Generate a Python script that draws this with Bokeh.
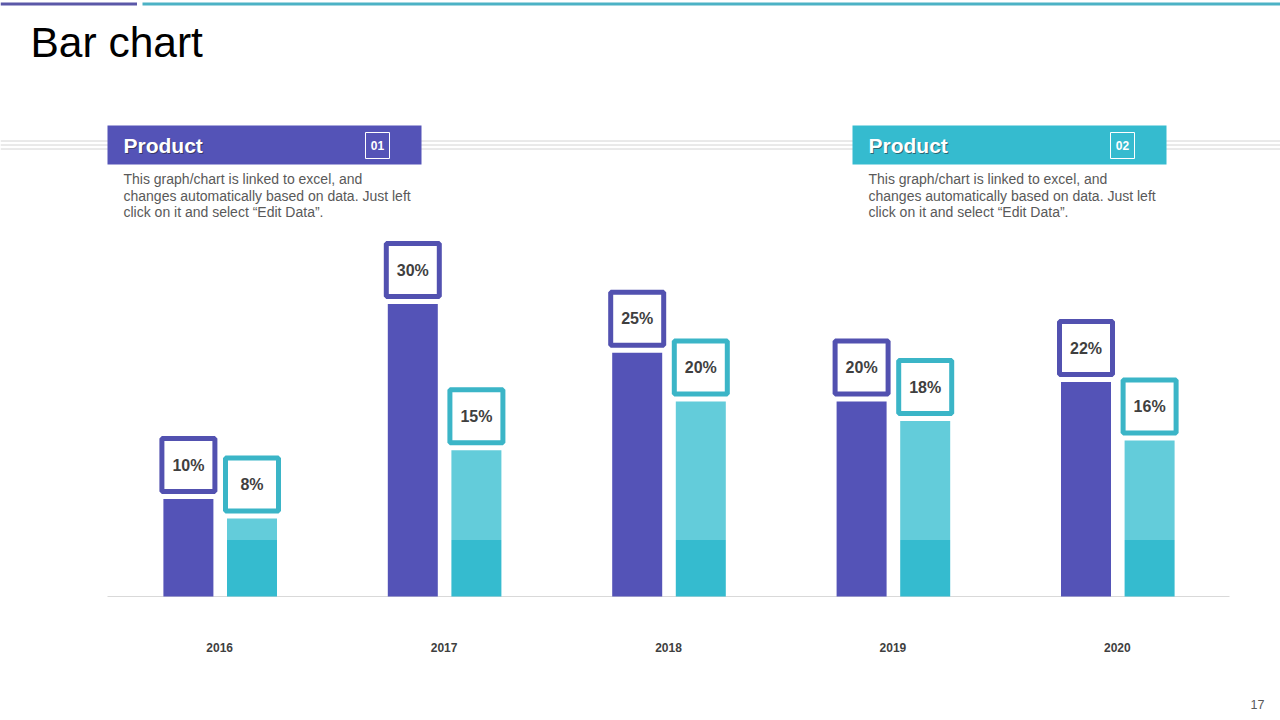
from bokeh.plotting import figure
from bokeh.models import Range1d, ColumnDataSource
from bokeh.core.properties import value
from bokeh.embed import file_html
from bokeh.resources import INLINE

# ---- chart data -------------------------------------------------------
years = ["2016", "2017", "2018", "2019", "2020"]
product_01 = [10, 30, 25, 20, 22]          # percent
product_02 = [8, 15, 20, 18, 16]           # percent
product_02_base = [5.8, 5.8, 5.8, 5.8, 5.8]  # darker lower segment of product 02

series_names = ["Product", "Product"]
series_tags = ["01", "02"]
blurb = [
    "This graph/chart is linked to excel,  and",
    "changes automatically based on data. Just  left",
    "click on it and select \u201cEdit Data\u201d.",
]
page_number = "17"

# ---- styling ----------------------------------------------------------
FONT = value("Liberation Sans")
PURPLE = "#5453B7"
PURPLE_EDGE = "#5251B0"
TEAL_DARK = "#35BBCF"
TEAL_LIGHT = "#63CCDA"
TEAL_EDGE = "#3BB5C7"
TEXT_DARK = "#3F3F3F"
TEXT_GREY = "#595959"

W, H = 1280, 720
BASE_Y = 596        # pixel row of the zero line
PX_PER_PCT = 9.75   # pixels per percentage point
GROUP_LEFT = 107
GROUP_W = 224.4

p = figure(width=W, height=H, x_range=Range1d(0, W), y_range=Range1d(H, 0),
           x_axis_type=None, y_axis_type=None, toolbar_location=None,
           output_backend="svg", min_border=0, outline_line_color=None,
           background_fill_color="white", border_fill_color="white")
p.grid.visible = False

# data ranges laid over the page coordinates
p.extra_x_ranges = {"cat": Range1d(-GROUP_LEFT / GROUP_W - 0.5, (W - GROUP_LEFT) / GROUP_W - 0.5)}
p.extra_y_ranges = {"val": Range1d((BASE_Y - H) / PX_PER_PCT, BASE_Y / PX_PER_PCT)}

# ---- page decoration --------------------------------------------------
p.quad(left=[0], right=[136.5], top=[2], bottom=[5], color="#5B58A8", line_color=None)
p.quad(left=[142], right=[W], top=[2], bottom=[5], color="#4CB2C5", line_color=None)

p.text(x=[30], y=[41.5], text=["Bar chart"], text_font=FONT, text_font_size="42.5px",
       text_color="black", text_baseline="middle")

for yy in (140.5, 144.5, 148.5):
    p.segment(x0=[0], x1=[W], y0=[yy], y1=[yy], line_color="#D4D4D4", line_width=1)

for left, col, name, tag in ((107, PURPLE, series_names[0], series_tags[0]),
                             (852, TEAL_DARK, series_names[1], series_tags[1])):
    p.quad(left=[left], right=[left + 314], top=[125], bottom=[164], color=col, line_color=None)
    p.text(x=[left + 17], y=[145.5], text=[name], text_font=FONT, text_font_size="21px",
           text_font_style="bold", text_color="#222222", text_alpha=0.55, text_baseline="middle")
    p.text(x=[left + 16], y=[144.5], text=[name], text_font=FONT, text_font_size="21px",
           text_font_style="bold", text_color="white", text_baseline="middle")
    tx = left + 270
    p.quad(left=[tx - 12], right=[tx + 12], top=[132], bottom=[158], fill_color=None,
           line_color="white", line_width=1)
    p.text(x=[tx], y=[145], text=[tag], text_font=FONT, text_font_size="12px",
           text_font_style="bold", text_color="white", text_align="center", text_baseline="middle")
    p.text(x=[left + 16] * 3, y=[178.5, 195, 211.5], text=blurb, text_font=FONT,
           text_font_size="14px", text_color=TEXT_GREY, text_baseline="middle")

p.text(x=[1257], y=[704], text=[page_number], text_font=FONT, text_font_size="12.5px",
       text_color=TEXT_GREY, text_align="center", text_baseline="middle")

# ---- bars ---------------------------------------------------------------
idx = list(range(len(years)))
bar_w = 50 / GROUP_W
off1, off2 = -31.3 / GROUP_W, 32.3 / GROUP_W
box_lift = 34 / PX_PER_PCT   # label box sits just above its bar

src = ColumnDataSource(dict(
    year=years,
    xc=idx,
    x1=[i + off1 for i in idx],
    x2=[i + off2 for i in idx],
    v1=product_01,
    v2=product_02,
    b2=product_02_base,
    y1=[v + box_lift for v in product_01],
    y2=[v + box_lift for v in product_02],
    t1=[f"{v}%" for v in product_01],
    t2=[f"{v}%" for v in product_02],
    zero=[0] * len(years),
    label_row=[647] * len(years),
))

# baseline
p.segment(x0=[-0.5], x1=[len(years) - 0.5], y0=[0], y1=[0], line_color="#D9D9D9",
          line_width=1, x_range_name="cat", y_range_name="val")

p.vbar(x="x1", bottom="zero", top="v1", width=bar_w, source=src, color=PURPLE,
       line_color=None, x_range_name="cat", y_range_name="val")
p.vbar(x="x2", bottom="b2", top="v2", width=bar_w, source=src, color=TEAL_LIGHT,
       line_color=None, x_range_name="cat", y_range_name="val")
p.vbar(x="x2", bottom="zero", top="b2", width=bar_w, source=src, color=TEAL_DARK,
       line_color=None, x_range_name="cat", y_range_name="val")

# value boxes
for xcol, ycol, tcol, edge in (("x1", "y1", "t1", PURPLE_EDGE), ("x2", "y2", "t2", TEAL_EDGE)):
    p.rect(x=xcol, y=ycol, width=53, height=53, width_units="screen", height_units="screen",
           source=src, fill_color="white", line_color=edge, line_width=5,
           x_range_name="cat", y_range_name="val")
    p.text(x=xcol, y=ycol, text=tcol, source=src, text_font=FONT, text_font_size="16px",
           text_font_style="bold", text_color=TEXT_DARK, text_align="center",
           text_baseline="middle", x_range_name="cat", y_range_name="val")

# year labels
p.text(x="xc", y="label_row", text="year", source=src,
       text_font=FONT, text_font_size="12px", text_font_style="bold", text_color=TEXT_DARK,
       text_align="center", text_baseline="middle", x_range_name="cat")

open("out.html", "w").write(file_html(p, INLINE))
